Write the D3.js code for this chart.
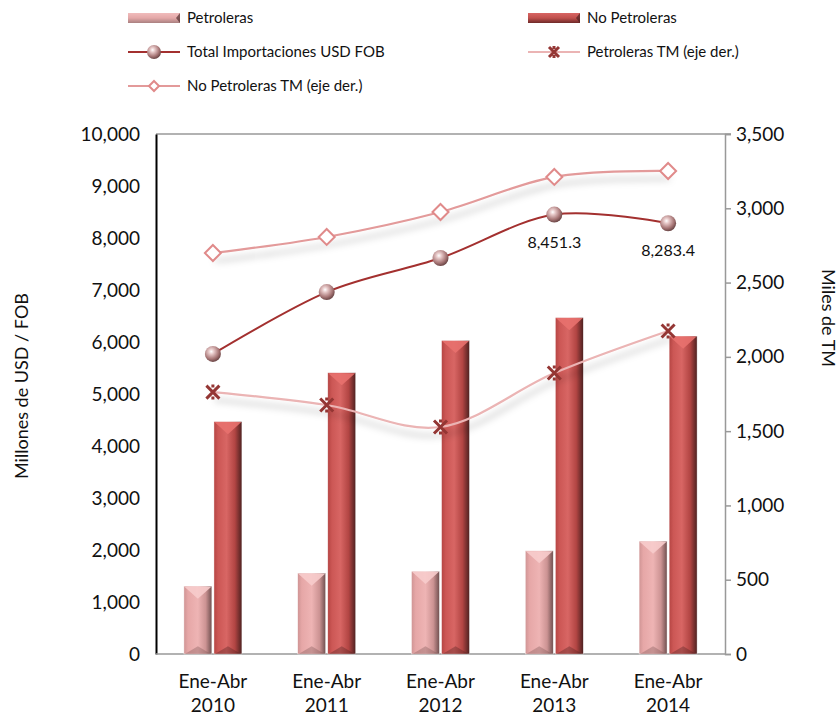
<!DOCTYPE html>
<html><head><meta charset="utf-8">
<script src="https://cdn.jsdelivr.net/npm/d3@7"></script>
<style>body{margin:0;background:#fff}svg{display:block}text{font-family:Lato,"Open Sans",sans-serif;fill:#111}</style>
</head><body><svg id="c" width="840" height="715"></svg>
<script>
const categories = ["2010","2011","2012","2013","2014"];
const catPrefix = "Ene-Abr";
const petroleras = [1305, 1555, 1590, 1985, 2170];
const noPetroleras = [4470, 5410, 6030, 6470, 6113];
const totalImport = [5770, 6960, 7615, 8451.3, 8283.4];
const petrolerasTM = [1763, 1676, 1528, 1891, 2174];
const noPetrolerasTM = [2699, 2807, 2975, 3211, 3251];
const leftTicks = [0,1000,2000,3000,4000,5000,6000,7000,8000,9000,10000];
const rightTicks = [0,500,1000,1500,2000,2500,3000,3500];
const labelled = [3,4];

const svg = d3.select("#c");
const m = {l:156, r:725, t:134, b:654};
const x = d3.scaleBand().domain(categories).range([m.l, m.r]).padding(0);
const sub = d3.scaleBand().domain(["p","n"]).range([-29, 29]).paddingInner(0.07);
const yL = d3.scaleLinear().domain([0,10000]).range([m.b, m.t]);
const yR = d3.scaleLinear().domain([0,3500]).range([m.b, m.t]);
const cx = c => x(c) + x.bandwidth()/2;

const defs = svg.append("defs");
function hgrad(id, stops){
  const g = defs.append("linearGradient").attr("id", id).attr("x1","0").attr("x2","1").attr("y1","0").attr("y2","0");
  stops.forEach(s => g.append("stop").attr("offset", s[0]).attr("stop-color", s[1]));
}
function vgrad(id, stops){
  const g = defs.append("linearGradient").attr("id", id).attr("x1","0").attr("x2","0").attr("y1","0").attr("y2","1");
  stops.forEach(s => g.append("stop").attr("offset", s[0]).attr("stop-color", s[1]));
}
hgrad("gp", [["0","#cf9494"],["0.15","#e6a7a7"],["0.5","#eeb4b4"],["0.78","#cc9393"],["1","#6f4f4f"]]);
hgrad("gn", [["0","#b54543"],["0.15","#cc5755"],["0.45","#d86664"],["0.75","#b24543"],["1","#4d2120"]]);
vgrad("lp", [["0","#f0bcbc"],["0.5","#e4a8a8"],["1","#a98080"]]);
vgrad("ln", [["0","#d86563"],["0.5","#c0504d"],["1","#6e2a29"]]);
const rg = defs.append("radialGradient").attr("id","ball").attr("cx","0.4").attr("cy","0.35").attr("r","0.65");
[["0","#ffffff"],["0.25","#e7c9c9"],["0.7","#a97878"],["1","#6d4747"]].forEach(s=>rg.append("stop").attr("offset",s[0]).attr("stop-color",s[1]));
const f = defs.append("filter").attr("id","sh").attr("x","-10%").attr("y","-60%").attr("width","120%").attr("height","220%");
f.append("feGaussianBlur").attr("in","SourceAlpha").attr("stdDeviation",3.5);
f.append("feOffset").attr("dx",2).attr("dy",8).attr("result","b");
f.append("feFlood").attr("flood-color","#000").attr("flood-opacity",0.28);
f.append("feComposite").attr("in2","b").attr("operator","in");
const fm = f.append("feMerge"); fm.append("feMergeNode"); fm.append("feMergeNode").attr("in","SourceGraphic");

// axes
svg.append("line").attr("x1",m.l).attr("x2",m.r+6).attr("y1",m.t).attr("y2",m.t).attr("stroke","#999").attr("stroke-width",1.5);
const gL = svg.append("g").attr("transform",`translate(${m.l},0)`)
  .call(d3.axisLeft(yL).tickValues(leftTicks).tickSize(0).tickPadding(16).tickFormat(d3.format(",")));
gL.select(".domain").attr("stroke","#000").attr("stroke-width",2);
gL.selectAll("text").style("font-size","19px").style("font-family","Lato");
const gR = svg.append("g").attr("transform",`translate(${m.r},0)`)
  .call(d3.axisRight(yR).tickValues(rightTicks).tickSize(6).tickPadding(5).tickFormat(d3.format(",")));
gR.select(".domain").attr("stroke","#999").attr("stroke-width",1.5);
gR.selectAll("line").attr("stroke","#999").attr("stroke-width",1.5);
gR.selectAll("text").style("font-size","19px").style("font-family","Lato");
svg.append("line").attr("x1",m.l).attr("x2",m.r).attr("y1",m.b).attr("y2",m.b).attr("stroke","#999").attr("stroke-width",1.5);

// x labels
const xl = svg.append("g").selectAll("text").data(categories).join("text")
  .attr("x", d=>cx(d)).attr("text-anchor","middle").style("font-size","19px");
xl.append("tspan").attr("x", d=>cx(d)).attr("y",688).text(catPrefix);
xl.append("tspan").attr("x", d=>cx(d)).attr("y",712).text(d=>d);

// titles
svg.append("text").attr("transform","translate(28,386) rotate(-90)").attr("text-anchor","middle").style("font-size","18px").text("Millones de USD / FOB");
svg.append("text").attr("transform","translate(822,318) rotate(90)").attr("text-anchor","middle").style("font-size","18px").text("Miles de  TM");

// bars
function drawBars(vals, key, grad, topC, botC){
  const g = svg.append("g");
  const w = sub.bandwidth();
  categories.forEach((c,i)=>{
    const x0 = cx(c) + sub(key), yt = yL(vals[i]), h = m.b - yt;
    g.append("rect").attr("x",x0).attr("y",yt).attr("width",w).attr("height",h).attr("fill",`url(#${grad})`)
      .attr("stroke","rgba(255,255,255,0.7)").attr("stroke-width",0.6);
    const d = Math.min(w*0.45, h/2);
    g.append("path").attr("d",`M${x0+0.5},${yt+0.5}L${x0+w-0.5},${yt+0.5}L${x0+w/2},${yt+d}Z`).attr("fill",topC).attr("opacity",0.9);
    const db = Math.min(w*0.28, h/2);
    g.append("path").attr("d",`M${x0+1},${m.b}L${x0+w-1},${m.b}L${x0+w/2},${m.b-db}Z`).attr("fill",botC).attr("opacity",0.35);
  });
}
drawBars(petroleras, "p", "gp", "#f7cccc", "#7a5252");
drawBars(noPetroleras, "n", "gn", "#e8716e", "#4d2020");

// lines
const curve = d3.curveCatmullRom.alpha(0);
const lineL = d3.line().x((d,i)=>cx(categories[i])).y(d=>yL(d)).curve(curve);
const lineR = d3.line().x((d,i)=>cx(categories[i])).y(d=>yR(d)).curve(curve);

svg.append("path").attr("d",lineR(noPetrolerasTM)).attr("fill","none").attr("stroke","#e39a9a").attr("stroke-width",2.2).attr("filter","url(#sh)");
svg.append("path").attr("d",lineR(petrolerasTM)).attr("fill","none").attr("stroke","#ebb4b4").attr("stroke-width",2.2).attr("filter","url(#sh)");
svg.append("path").attr("d",lineL(totalImport)).attr("fill","none").attr("stroke","#a3302f").attr("stroke-width",2);

// markers
const dia = (g, xx, yy, s) => g.append("path").attr("d",`M${xx},${yy-s}L${xx+s},${yy}L${xx},${yy+s}L${xx-s},${yy}Z`)
  .attr("fill","#fff").attr("stroke","#e08a8a").attr("stroke-width",2);
const cross = (g, xx, yy, s) => g.append("path").attr("d",`M${xx-s},${yy-s}L${xx+s},${yy+s}M${xx-s},${yy+s}L${xx+s},${yy-s}M${xx},${yy-s-1}L${xx},${yy-s+2}M${xx},${yy+s+1}L${xx},${yy+s-2}`)
  .attr("stroke","#943634").attr("stroke-width",3);
const ball = (g, xx, yy, r) => g.append("circle").attr("cx",xx).attr("cy",yy).attr("r",r).attr("fill","url(#ball)");
const mk = svg.append("g");
noPetrolerasTM.forEach((v,i)=>dia(mk, cx(categories[i]), yR(v), 8));
petrolerasTM.forEach((v,i)=>cross(mk, cx(categories[i]), yR(v), 6.5));
totalImport.forEach((v,i)=>ball(mk, cx(categories[i]), yL(v), 8));

// data labels
const fmt1 = d3.format(",.1f");
labelled.forEach(i=>{
  svg.append("text").attr("x",cx(categories[i])).attr("y",yL(totalImport[i])+33).attr("text-anchor","middle")
    .style("font-size","16px").text(fmt1(totalImport[i]));
});

// legend
const lg = svg.append("g").style("font-size","15px");
function legBar(xx, yy, grad, label){
  lg.append("rect").attr("x",xx).attr("y",yy-5).attr("width",52).attr("height",10).attr("fill",`url(#${grad})`);
  lg.append("path").attr("d",`M${xx+52},${yy-5}L${xx+48},${yy}L${xx+52},${yy+5}Z`).attr("fill","#3a1a1a").attr("opacity",0.6);
  lg.append("text").attr("x",xx+59).attr("y",yy+5).text(label);
}
function legLine(xx, yy, color, w, label){
  lg.append("line").attr("x1",xx).attr("x2",xx+52).attr("y1",yy).attr("y2",yy).attr("stroke",color).attr("stroke-width",w);
  lg.append("text").attr("x",xx+59).attr("y",yy+5).text(label);
}
legBar(128, 18, "lp", "Petroleras");
legBar(528, 18, "ln", "No Petroleras");
legLine(128, 52, "#a3302f", 2, "Total Importaciones USD FOB");
ball(lg, 154, 52, 7);
legLine(528, 52, "#ebb4b4", 2, "Petroleras TM (eje der.)");
cross(lg, 554, 52, 5);
legLine(128, 86, "#e39a9a", 2, "No Petroleras TM (eje der.)");
dia(lg, 154, 86, 5);
</script></body></html>
